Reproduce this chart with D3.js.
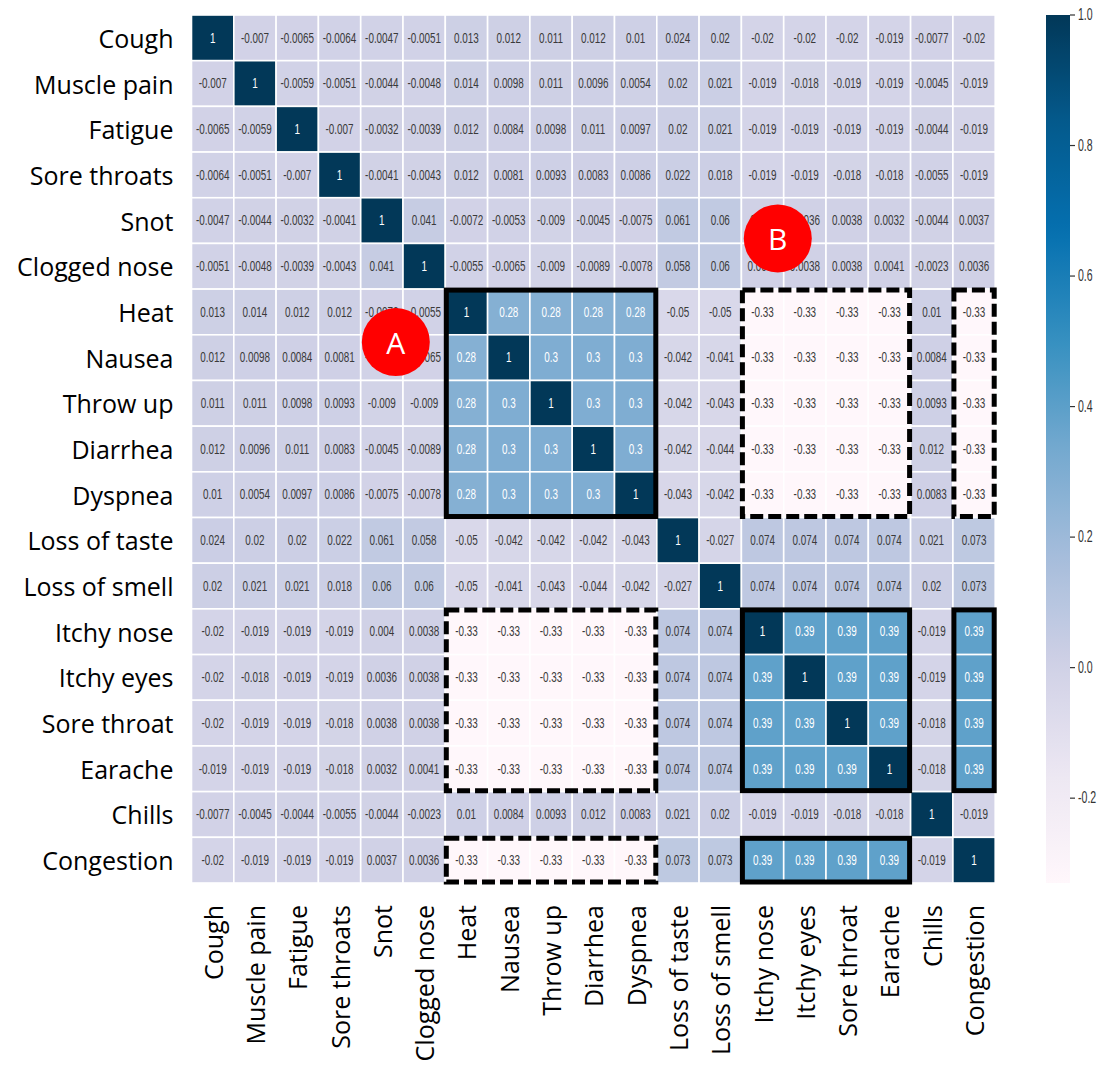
<!DOCTYPE html>
<html>
<head>
<meta charset="utf-8">
<script src="https://cdn.jsdelivr.net/npm/d3@7/dist/d3.min.js"></script>
<style>
  html, body { margin: 0; padding: 0; background: #fff; }
  svg { display: block; }
</style>
</head>
<body>
<svg id="chart" width="1107" height="1067"></svg>
<script>
// Symptom names, used for both axes (row order = column order)
const symptoms = [
  "Cough", "Muscle pain", "Fatigue", "Sore throats", "Snot", "Clogged nose",
  "Heat", "Nausea", "Throw up", "Diarrhea", "Dyspnea", "Loss of taste",
  "Loss of smell", "Itchy nose", "Itchy eyes", "Sore throat", "Earache",
  "Chills", "Congestion"
];

// Correlation coefficients, one row per symptom
const rowCough       = [1, -0.007, -0.0065, -0.0064, -0.0047, -0.0051, 0.013, 0.012, 0.011, 0.012, 0.01, 0.024, 0.02, -0.02, -0.02, -0.02, -0.019, -0.0077, -0.02];
const rowMusclePain  = [-0.007, 1, -0.0059, -0.0051, -0.0044, -0.0048, 0.014, 0.0098, 0.011, 0.0096, 0.0054, 0.02, 0.021, -0.019, -0.018, -0.019, -0.019, -0.0045, -0.019];
const rowFatigue     = [-0.0065, -0.0059, 1, -0.007, -0.0032, -0.0039, 0.012, 0.0084, 0.0098, 0.011, 0.0097, 0.02, 0.021, -0.019, -0.019, -0.019, -0.019, -0.0044, -0.019];
const rowSoreThroats = [-0.0064, -0.0051, -0.007, 1, -0.0041, -0.0043, 0.012, 0.0081, 0.0093, 0.0083, 0.0086, 0.022, 0.018, -0.019, -0.019, -0.018, -0.018, -0.0055, -0.019];
const rowSnot        = [-0.0047, -0.0044, -0.0032, -0.0041, 1, 0.041, -0.0072, -0.0053, -0.009, -0.0045, -0.0075, 0.061, 0.06, 0.004, 0.0036, 0.0038, 0.0032, -0.0044, 0.0037];
const rowCloggedNose = [-0.0051, -0.0048, -0.0039, -0.0043, 0.041, 1, -0.0055, -0.0065, -0.009, -0.0089, -0.0078, 0.058, 0.06, 0.0038, 0.0038, 0.0038, 0.0041, -0.0023, 0.0036];
const rowHeat        = [0.013, 0.014, 0.012, 0.012, -0.0072, -0.0055, 1, 0.28, 0.28, 0.28, 0.28, -0.05, -0.05, -0.33, -0.33, -0.33, -0.33, 0.01, -0.33];
const rowNausea      = [0.012, 0.0098, 0.0084, 0.0081, -0.0053, -0.0065, 0.28, 1, 0.3, 0.3, 0.3, -0.042, -0.041, -0.33, -0.33, -0.33, -0.33, 0.0084, -0.33];
const rowThrowUp     = [0.011, 0.011, 0.0098, 0.0093, -0.009, -0.009, 0.28, 0.3, 1, 0.3, 0.3, -0.042, -0.043, -0.33, -0.33, -0.33, -0.33, 0.0093, -0.33];
const rowDiarrhea    = [0.012, 0.0096, 0.011, 0.0083, -0.0045, -0.0089, 0.28, 0.3, 0.3, 1, 0.3, -0.042, -0.044, -0.33, -0.33, -0.33, -0.33, 0.012, -0.33];
const rowDyspnea     = [0.01, 0.0054, 0.0097, 0.0086, -0.0075, -0.0078, 0.28, 0.3, 0.3, 0.3, 1, -0.043, -0.042, -0.33, -0.33, -0.33, -0.33, 0.0083, -0.33];
const rowLossTaste   = [0.024, 0.02, 0.02, 0.022, 0.061, 0.058, -0.05, -0.042, -0.042, -0.042, -0.043, 1, -0.027, 0.074, 0.074, 0.074, 0.074, 0.021, 0.073];
const rowLossSmell   = [0.02, 0.021, 0.021, 0.018, 0.06, 0.06, -0.05, -0.041, -0.043, -0.044, -0.042, -0.027, 1, 0.074, 0.074, 0.074, 0.074, 0.02, 0.073];
const rowItchyNose   = [-0.02, -0.019, -0.019, -0.019, 0.004, 0.0038, -0.33, -0.33, -0.33, -0.33, -0.33, 0.074, 0.074, 1, 0.39, 0.39, 0.39, -0.019, 0.39];
const rowItchyEyes   = [-0.02, -0.018, -0.019, -0.019, 0.0036, 0.0038, -0.33, -0.33, -0.33, -0.33, -0.33, 0.074, 0.074, 0.39, 1, 0.39, 0.39, -0.019, 0.39];
const rowSoreThroat  = [-0.02, -0.019, -0.019, -0.018, 0.0038, 0.0038, -0.33, -0.33, -0.33, -0.33, -0.33, 0.074, 0.074, 0.39, 0.39, 1, 0.39, -0.018, 0.39];
const rowEarache     = [-0.019, -0.019, -0.019, -0.018, 0.0032, 0.0041, -0.33, -0.33, -0.33, -0.33, -0.33, 0.074, 0.074, 0.39, 0.39, 0.39, 1, -0.018, 0.39];
const rowChills      = [-0.0077, -0.0045, -0.0044, -0.0055, -0.0044, -0.0023, 0.01, 0.0084, 0.0093, 0.012, 0.0083, 0.021, 0.02, -0.019, -0.019, -0.018, -0.018, 1, -0.019];
const rowCongestion  = [-0.02, -0.019, -0.019, -0.019, 0.0037, 0.0036, -0.33, -0.33, -0.33, -0.33, -0.33, 0.073, 0.073, 0.39, 0.39, 0.39, 0.39, -0.019, 1];

const corrRows = [rowCough, rowMusclePain, rowFatigue, rowSoreThroats, rowSnot, rowCloggedNose,
  rowHeat, rowNausea, rowThrowUp, rowDiarrhea, rowDyspnea, rowLossTaste, rowLossSmell,
  rowItchyNose, rowItchyEyes, rowSoreThroat, rowEarache, rowChills, rowCongestion];

// Colour bar tick values
const colorbarTicks = [1.0, 0.8, 0.6, 0.4, 0.2, 0.0, -0.2];

// Highlighted blocks (first/last column, first/last row, by symptom)
const solidBlocks = [
  ["Heat", "Dyspnea", "Heat", "Dyspnea"],
  ["Itchy nose", "Earache", "Itchy nose", "Earache"],
  ["Congestion", "Congestion", "Itchy nose", "Earache"],
  ["Itchy nose", "Earache", "Congestion", "Congestion"]
];
const dashedBlocks = [
  ["Itchy nose", "Earache", "Heat", "Dyspnea"],
  ["Congestion", "Congestion", "Heat", "Dyspnea"],
  ["Heat", "Dyspnea", "Itchy nose", "Earache"],
  ["Heat", "Dyspnea", "Congestion", "Congestion"]
];
// Callout markers, placed in cell units (column, row)
const callouts = [
  { label: "A", col: 4.83, row: 7.16 },
  { label: "B", col: 13.86, row: 4.89 }
];

// ---------------------------------------------------------------
const svg = d3.select("#chart");

const plot = { left: 191.5, right: 995.2, top: 15, bottom: 883 };
const bar = { left: 1046, right: 1070, top: 15, bottom: 883 };

const x = d3.scaleBand().domain(symptoms).range([plot.left, plot.right]);
const y = d3.scaleBand().domain(symptoms).range([plot.top, plot.bottom]);
const colUnit = d3.scaleLinear().domain([0, symptoms.length]).range([plot.left, plot.right]);
const rowUnit = d3.scaleLinear().domain([0, symptoms.length]).range([plot.top, plot.bottom]);

const allValues = corrRows.flat();
const vmin = d3.min(allValues), vmax = d3.max(allValues);

const pubu = ["#fff7fb", "#ece7f2", "#d0d1e6", "#a6bddb", "#74a9cf", "#3690c0", "#0570b0", "#045a8d", "#023858"];
const color = d3.scaleSequential(d3.piecewise(d3.interpolateRgb, pubu)).domain([vmin, vmax]);

function luminance(c) {
  const rgb = d3.rgb(c);
  const lin = v => { v /= 255; return v <= 0.03928 ? v / 12.92 : Math.pow((v + 0.055) / 1.055, 2.4); };
  return 0.2126 * lin(rgb.r) + 0.7152 * lin(rgb.g) + 0.0722 * lin(rgb.b);
}

const cells = [];
corrRows.forEach((row, i) => row.forEach((v, j) => cells.push({ r: symptoms[i], c: symptoms[j], v })));

// Heatmap cells
svg.append("g").selectAll("rect").data(cells).join("rect")
  .attr("x", d => x(d.c)).attr("y", d => y(d.r))
  .attr("width", x.bandwidth()).attr("height", y.bandwidth())
  .attr("fill", d => color(d.v))
  .attr("stroke", "#ffffff").attr("stroke-width", 1.6);

// Cell annotations (condensed numerals)
const narrow = 0.66;
svg.append("g").selectAll("g").data(cells).join("g")
  .attr("transform", d => `translate(${x(d.c) + x.bandwidth() / 2},${y(d.r) + y.bandwidth() / 2}) scale(${narrow},1)`)
  .append("text")
  .attr("text-anchor", "middle").attr("dominant-baseline", "central")
  .attr("font-family", "'Liberation Sans', Arial, sans-serif").attr("font-size", 15)
  .attr("fill", d => luminance(color(d.v)) < 0.408 ? "#ffffff" : "#3a3a3a")
  .text(d => String(d.v));

// Axis labels
const labelFont = "'Open Sans', 'Noto Sans', sans-serif";
svg.append("g").selectAll("text").data(symptoms).join("text")
  .attr("x", plot.left - 18).attr("y", d => y(d) + y.bandwidth() / 2)
  .attr("text-anchor", "end").attr("dominant-baseline", "central")
  .attr("font-family", labelFont).attr("font-size", 25).attr("fill", "#000")
  .text(d => d);

svg.append("g").selectAll("text").data(symptoms).join("text")
  .attr("transform", d => `translate(${x(d) + x.bandwidth() / 2},${plot.bottom + 22}) rotate(-90)`)
  .attr("text-anchor", "end").attr("dominant-baseline", "central")
  .attr("font-family", labelFont).attr("font-size", 25).attr("fill", "#000")
  .text(d => d);

// Highlight blocks
function blockRect(b) {
  const x0 = x(b[0]), x1 = x(b[1]) + x.bandwidth();
  const y0 = y(b[2]), y1 = y(b[3]) + y.bandwidth();
  return { x: x0, y: y0, w: x1 - x0, h: y1 - y0 };
}
svg.append("g").selectAll("rect").data(solidBlocks.map(blockRect)).join("rect")
  .attr("x", d => d.x + 1).attr("y", d => d.y + 1)
  .attr("width", d => d.w - 2).attr("height", d => d.h - 2)
  .attr("fill", "none").attr("stroke", "#000").attr("stroke-width", 5);
svg.append("g").selectAll("rect").data(dashedBlocks.map(blockRect)).join("rect")
  .attr("x", d => d.x + 1).attr("y", d => d.y + 1)
  .attr("width", d => d.w - 2).attr("height", d => d.h - 2)
  .attr("fill", "none").attr("stroke", "#000").attr("stroke-width", 5)
  .attr("stroke-dasharray", "13,5");

// Callout markers
const co = svg.append("g").selectAll("g").data(callouts).join("g")
  .attr("transform", d => `translate(${colUnit(d.col)},${rowUnit(d.row)})`);
co.append("circle").attr("r", 34).attr("fill", "#ff0000");
co.append("text").attr("text-anchor", "middle").attr("dominant-baseline", "central")
  .attr("font-family", labelFont).attr("font-size", 30).attr("fill", "#fff")
  .text(d => d.label);

// Colour bar
const defs = svg.append("defs");
const grad = defs.append("linearGradient").attr("id", "cbar")
  .attr("x1", 0).attr("y1", 1).attr("x2", 0).attr("y2", 0);
d3.range(0, 1.0001, 0.02).forEach(t => {
  grad.append("stop").attr("offset", t).attr("stop-color", color(vmin + t * (vmax - vmin)));
});
svg.append("rect").attr("x", bar.left).attr("y", bar.top)
  .attr("width", bar.right - bar.left).attr("height", bar.bottom - bar.top)
  .attr("fill", "url(#cbar)");

const cbScale = d3.scaleLinear().domain([vmin, vmax]).range([bar.bottom, bar.top]);
const cbAxis = svg.append("g").attr("transform", `translate(${bar.right},0)`);
const tk = cbAxis.selectAll("g").data(colorbarTicks).join("g")
  .attr("transform", d => `translate(0,${cbScale(d)})`);
tk.append("line").attr("x1", 0).attr("x2", 5).attr("stroke", "#333").attr("stroke-width", 1.2);
tk.append("g").attr("transform", `translate(8,0) scale(${narrow},1)`)
  .append("text").attr("dominant-baseline", "central")
  .attr("font-family", "'Liberation Sans', Arial, sans-serif").attr("font-size", 16).attr("fill", "#333")
  .text(d => d3.format(".1f")(d).replace("−", "-"));
</script>
</body>
</html>
